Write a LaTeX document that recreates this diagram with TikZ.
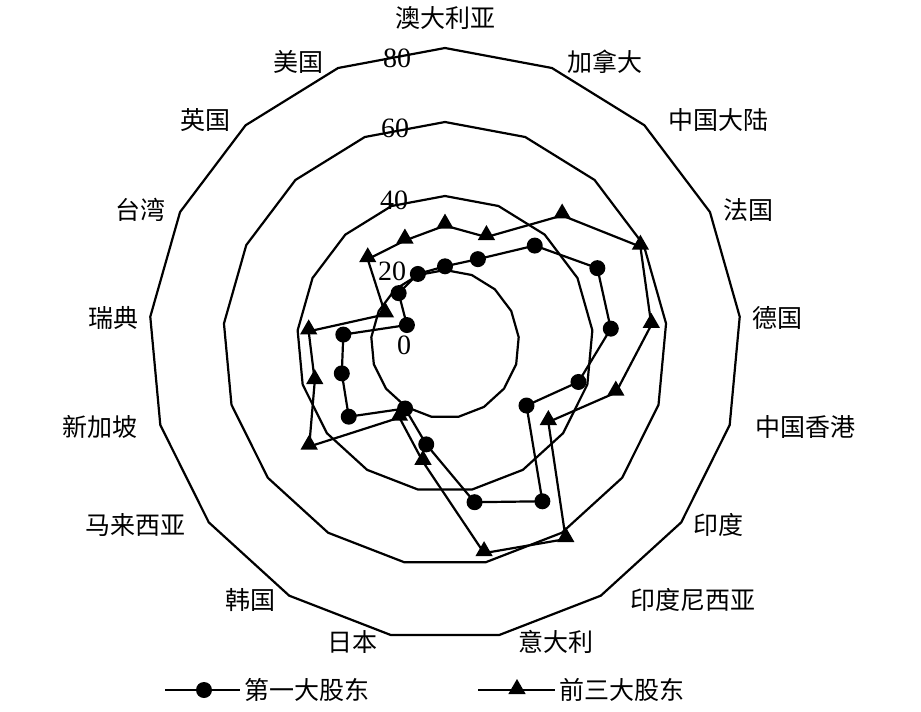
\documentclass[tikz,border=0pt]{standalone}
\usepackage{fontspec}
\setmainfont{Liberation Serif}
\newfontfamily\cjk{Noto Sans CJK SC}
\usetikzlibrary{shapes.geometric}
\begin{document}
\begin{tikzpicture}[x=1pt,y=-1pt,line width=2.2pt,line join=round,
  lab/.style={font=\cjk\fontsize{25}{28}\selectfont,inner sep=0pt},
  num/.style={font=\fontsize{28}{30}\selectfont,inner sep=0pt},
  dot/.style={circle,fill=black,inner sep=0pt,minimum size=16pt},
  tri/.style={regular polygon,regular polygon sides=3,fill=black,inner sep=0pt,minimum size=20pt}]
\useasboundingbox (0,0) rectangle (921,712);
\begin{scope}[shift={(445,344)},y=1pt]
\def\sc{3.7}
\foreach \v in {20,40,60,80}{
  \draw (90:\v*\sc) \foreach \k in {1,...,16}{ -- ({90-\k*360/17}:\v*\sc)} -- cycle;
}
% first shareholder
\foreach[count=\k from 0] \v in {21,24.6,36,46,45,37.5,27.6,50,43.5,27.6,20.5,32.6,29,27.6,11.5,18.6,20.3}
  \coordinate (a\k) at ({90-\k*360/17}:\v*\sc);
\foreach[count=\k from 0] \v in {32,31,47,59,56,48,35,62,57.5,32.4,23.4,46,36.6,37,18,31,30}
  \coordinate (b\k) at ({90-\k*360/17}:\v*\sc);
\draw (a0) \foreach \k in {1,...,16}{ -- (a\k)} -- cycle;
\draw (b0) \foreach \k in {1,...,16}{ -- (b\k)} -- cycle;
\foreach \k in {0,...,16}{
  \node[dot] (da\k) at (a\k) {};
  \node[tri,yshift=2pt] (db\k) at (b\k) {};
}
\end{scope}
\node[num] (n80) at (397,58) {80};
\node[num] (n60) at (395,128) {60};
\node[num] (n40) at (394,200) {40};
\node[num] (n20) at (392,271) {20};
\node[num] (n0) at (404,345) {0};
\node[lab] (l1) at (445,18) {澳大利亚};
\node[lab] (l2) at (605,62) {加拿大};
\node[lab] (l3) at (718,120) {中国大陆};
\node[lab] (l4) at (748,210) {法国};
\node[lab] (l5) at (777,318) {德国};
\node[lab] (l6) at (805,427) {中国香港};
\node[lab] (l7) at (718,525) {印度};
\node[lab] (l8) at (693,600) {印度尼西亚};
\node[lab] (l9) at (556,642) {意大利};
\node[lab] (l10) at (352,642) {日本};
\node[lab] (l11) at (250,600) {韩国};
\node[lab] (l12) at (135,525) {马来西亚};
\node[lab] (l13) at (100,427) {新加坡};
\node[lab] (l14) at (113,318) {瑞典};
\node[lab] (l15) at (140,210) {台湾};
\node[lab] (l16) at (205,120) {英国};
\node[lab] (l17) at (298,62) {美国};
% legend
\coordinate (la) at (165,690); \coordinate (lb) at (240,690);
\draw (la) -- (lb); \node[dot] (lga) at (204,690) {};
\node[lab,anchor=west] (lta) at (243,690) {第一大股东};
\coordinate (lc) at (478,690); \coordinate (ld) at (555,690);
\draw (lc) -- (ld); \node[tri] (lgb) at (517,689) {};
\node[lab,anchor=west] (ltb) at (558,690) {前三大股东};
\end{tikzpicture}
\end{document}
